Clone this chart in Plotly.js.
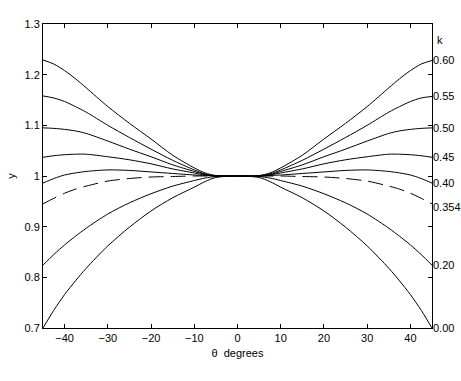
<!DOCTYPE html>
<html>
<head>
<meta charset="utf-8">
<script src="https://cdn.plot.ly/plotly-3.0.1.min.js"></script>
<style>html,body{margin:0;padding:0;background:#fff}#chart{width:461px;height:381px}</style>
</head>
<body>
<div id="chart"></div>
<script>
// angle theta in degrees
var theta = [-45,-42.5,-40,-37.5,-35,-30,-25,-20,-15,-10,-7.5,-5,0,5,7.5,10,15,20,25,30,35,37.5,40,42.5,45];
// curve labels (k)
var kLabels = ["0.60","0.55","0.50","0.45","0.40","0.354","0.20","0.00"];
// y values for each k
var y060 = [1.229,1.221,1.208,1.192,1.174,1.137,1.104,1.073,1.041,1.016,1.006,1.001,1.000,1.001,1.006,1.016,1.041,1.073,1.104,1.137,1.174,1.192,1.208,1.221,1.228];
var y055 = [1.158,1.154,1.147,1.137,1.126,1.100,1.076,1.053,1.031,1.012,1.004,1.000,1.000,1.000,1.004,1.012,1.031,1.053,1.076,1.100,1.126,1.137,1.147,1.154,1.157];
var y050 = [1.095,1.094,1.092,1.089,1.084,1.069,1.053,1.038,1.022,1.009,1.003,1.000,1.000,1.000,1.003,1.009,1.022,1.038,1.053,1.069,1.084,1.089,1.092,1.094,1.095];
var y045 = [1.037,1.040,1.042,1.043,1.043,1.038,1.032,1.024,1.014,1.006,1.002,1.000,1.000,1.000,1.002,1.006,1.014,1.024,1.032,1.038,1.043,1.043,1.042,1.040,1.037];
var y040 = [0.986,0.995,1.002,1.006,1.009,1.012,1.011,1.008,1.005,1.002,1.001,1.000,1.000,1.000,1.001,1.002,1.005,1.008,1.011,1.012,1.009,1.006,1.002,0.995,0.986];
var y0354 = [0.945,0.956,0.966,0.974,0.980,0.990,0.995,0.998,0.999,1.000,1.000,1.000,1.000,1.000,1.000,1.000,0.999,0.998,0.995,0.990,0.980,0.974,0.966,0.956,0.945];
var y020 = [0.824,0.845,0.864,0.881,0.897,0.925,0.947,0.965,0.980,0.991,0.996,0.999,1.000,0.999,0.996,0.991,0.980,0.965,0.947,0.925,0.897,0.881,0.864,0.845,0.824];
var y000 = [0.700,0.735,0.766,0.793,0.818,0.862,0.899,0.931,0.957,0.978,0.989,0.997,1.000,0.997,0.989,0.978,0.957,0.931,0.899,0.862,0.818,0.793,0.766,0.735,0.700];
var xTicks = [-40,-30,-20,-10,0,10,20,30,40];
var yTicks = [0.7,0.8,0.9,1,1.1,1.2,1.3];
var yTickText = ["0.7","0.8","0.9","1","1.1","1.2","1.3"];

var series = [y060,y055,y050,y045,y040,y0354,y020,y000];
var traces = series.map(function(ys, i){
  return {
    x: theta, y: ys, type: 'scatter', mode: 'lines',
    line: {color: '#000', width: 1, shape: 'spline', smoothing: 0.8,
           dash: kLabels[i] === "0.354" ? '15px,7px' : 'solid'},
    hoverinfo: 'skip', showlegend: false
  };
});

var font = {family: 'Liberation Sans, Arial, sans-serif', size: 11, color: '#000'};
var annotations = series.map(function(ys, i){
  return {xref: 'paper', yref: 'y', x: 1, y: ys[ys.length-1], xanchor: 'left', yanchor: 'middle',
          xshift: 0, borderpad: 0, yshift: kLabels[i] === "0.354" ? -3 : 0,
          text: kLabels[i], showarrow: false, font: font};
});
annotations.push({xref: 'paper', yref: 'y', x: 1, y: 1.269, xanchor: 'left', yanchor: 'middle',
                  xshift: 4, borderpad: 0, text: 'k', showarrow: false, font: font});

var layout = {
  width: 461, height: 381,
  margin: {l: 43, r: 29, t: 24, b: 53},
  paper_bgcolor: '#fff', plot_bgcolor: '#fff',
  font: font,
  xaxis: {range: [-45, 45], tickvals: xTicks, ticks: 'inside', ticklen: 4, tickcolor: '#000',
          showline: true, linecolor: '#000', linewidth: 1, mirror: 'ticks', showgrid: false,
          zeroline: false, title: {text: 'θ  degrees', font: font, standoff: 6}},
  yaxis: {range: [0.7, 1.3], tickvals: yTicks, ticktext: yTickText, ticks: 'inside', ticklen: 4,
          tickcolor: '#000', showline: true, linecolor: '#000', linewidth: 1, mirror: 'ticks',
          showgrid: false, zeroline: false, title: {text: 'y', font: font, standoff: 6}},
  annotations: annotations
};
Plotly.newPlot('chart', traces, layout, {staticPlot: true, displayModeBar: false});
</script>
</body>
</html>
